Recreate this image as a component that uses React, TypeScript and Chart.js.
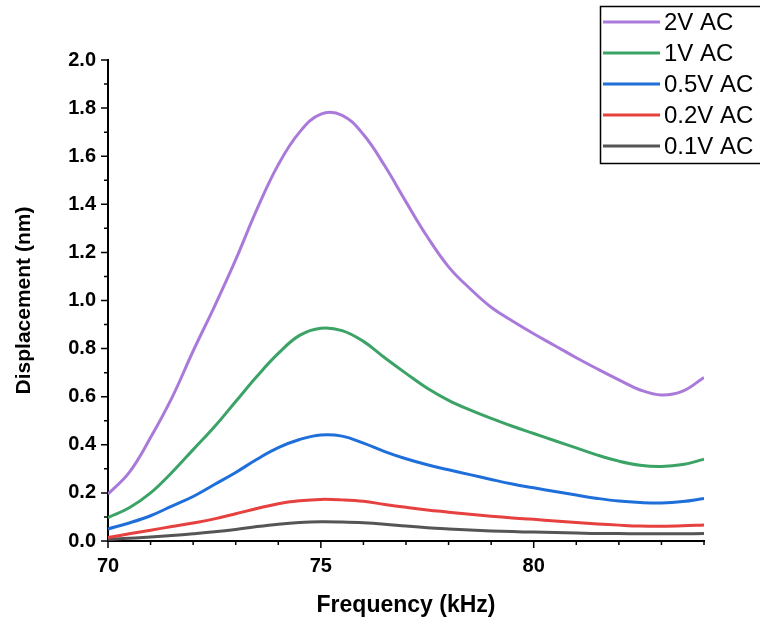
import React, { useEffect, useRef } from 'react';
import { Chart, registerables } from 'chart.js';

Chart.register(...registerables);

const frequencies = [70, 70.5, 71, 71.5, 72, 72.5, 73, 73.5, 74, 74.5, 75, 75.5, 76, 76.5, 77, 77.5, 78, 78.5, 79, 79.5, 80, 80.5, 81, 81.5, 82, 82.5, 83, 83.5, 84];

const v2AC = [0.195, 0.285, 0.43, 0.595, 0.79, 0.975, 1.17, 1.38, 1.565, 1.70, 1.775, 1.77, 1.69, 1.56, 1.41, 1.265, 1.14, 1.05, 0.972, 0.915, 0.862, 0.812, 0.762, 0.715, 0.67, 0.628, 0.607, 0.623, 0.68];
const v1AC = [0.097, 0.138, 0.2, 0.285, 0.38, 0.475, 0.58, 0.685, 0.78, 0.855, 0.885, 0.875, 0.83, 0.762, 0.697, 0.635, 0.585, 0.545, 0.51, 0.477, 0.447, 0.417, 0.387, 0.357, 0.332, 0.315, 0.31, 0.318, 0.34];
const v05AC = [0.05, 0.075, 0.105, 0.145, 0.185, 0.235, 0.285, 0.34, 0.388, 0.422, 0.441, 0.436, 0.407, 0.372, 0.342, 0.317, 0.296, 0.276, 0.256, 0.237, 0.221, 0.206, 0.191, 0.177, 0.166, 0.16, 0.158, 0.164, 0.177];
const v02AC = [0.014, 0.03, 0.045, 0.06, 0.075, 0.092, 0.113, 0.135, 0.155, 0.167, 0.173, 0.171, 0.165, 0.152, 0.14, 0.129, 0.12, 0.111, 0.103, 0.096, 0.09, 0.083, 0.077, 0.071, 0.066, 0.062, 0.061, 0.063, 0.067];
const v01AC = [0.007, 0.011, 0.017, 0.023, 0.03, 0.038, 0.048, 0.06, 0.07, 0.077, 0.08, 0.079, 0.076, 0.07, 0.062, 0.055, 0.05, 0.046, 0.042, 0.039, 0.037, 0.035, 0.033, 0.031, 0.031, 0.03, 0.03, 0.03, 0.031];

const seriesLabels = ['2V AC', '1V AC', '0.5V AC', '0.2V AC', '0.1V AC'];
const seriesValues = [v2AC, v1AC, v05AC, v02AC, v01AC];
const seriesColors = ['#A97AD9', '#3BA366', '#1F6FDA', '#E6403F', '#555555'];

const xMajorTicks = [70, 75, 80];
const xMinorTicks = [70, 71, 72, 73, 74, 75, 76, 77, 78, 79, 80, 81, 82, 83, 84];
const yMajorTicks = [0, 0.2, 0.4, 0.6, 0.8, 1.0, 1.2, 1.4, 1.6, 1.8, 2.0];
const yMinorTicks = [0.1, 0.3, 0.5, 0.7, 0.9, 1.1, 1.3, 1.5, 1.7, 1.9];

const axisTicksPlugin = {
  id: 'axisTicks',
  afterDraw(chart: any) {
    const { ctx, chartArea, scales } = chart;
    const xs = scales.x;
    const ys = scales.y;
    ctx.save();
    ctx.strokeStyle = '#000';
    ctx.lineWidth = 1.5;
    ctx.beginPath();
    xMinorTicks.forEach((v) => {
      const px = xs.getPixelForValue(v);
      const len = xMajorTicks.includes(v) ? 7 : 4;
      ctx.moveTo(px, chartArea.bottom);
      ctx.lineTo(px, chartArea.bottom + len);
    });
    yMajorTicks.forEach((v) => {
      const py = ys.getPixelForValue(v);
      ctx.moveTo(chartArea.left, py);
      ctx.lineTo(chartArea.left - 7, py);
    });
    yMinorTicks.forEach((v) => {
      const py = ys.getPixelForValue(v);
      ctx.moveTo(chartArea.left, py);
      ctx.lineTo(chartArea.left - 4, py);
    });
    ctx.stroke();
    ctx.restore();
  },
};

const boxLegendPlugin = {
  id: 'boxLegend',
  afterDraw(chart: any) {
    const { ctx } = chart;
    ctx.save();
    ctx.strokeStyle = '#000';
    ctx.lineWidth = 1.5;
    ctx.strokeRect(600.5, 6.5, 170, 157);
    ctx.font = '24px "Liberation Sans", Arial, sans-serif';
    ctx.textBaseline = 'middle';
    ctx.fillStyle = '#000';
    chart.data.datasets.forEach((ds: any, i: number) => {
      const y = 22 + i * 31;
      ctx.strokeStyle = ds.borderColor;
      ctx.lineWidth = 3;
      ctx.beginPath();
      ctx.moveTo(603, y);
      ctx.lineTo(660, y);
      ctx.stroke();
      ctx.fillText(ds.label, 664, y + 1);
    });
    ctx.restore();
  },
};

export default function App() {
  const canvasRef = useRef<HTMLCanvasElement | null>(null);

  useEffect(() => {
    if (!canvasRef.current) return;
    const chart = new Chart(canvasRef.current, {
      type: 'line',
      data: {
        datasets: seriesLabels.map((label, i) => ({
          label,
          data: frequencies.map((f, j) => ({ x: f, y: seriesValues[i][j] })),
          borderColor: seriesColors[i],
          backgroundColor: seriesColors[i],
          borderWidth: 3,
          pointRadius: 0,
          tension: 0.4,
          fill: false,
        })),
      },
      options: {
        animation: false,
        responsive: false,
        maintainAspectRatio: false,
        layout: { padding: { top: 60, right: 56, left: 0, bottom: 0 } },
        plugins: {
          legend: { display: false },
          tooltip: { enabled: false },
        },
        scales: {
          x: {
            type: 'linear',
            min: 70,
            max: 84,
            afterBuildTicks: (scale: any) => {
              scale.ticks = xMajorTicks.map((v) => ({ value: v }));
            },
            afterFit: (scale: any) => {
              scale.height = 85;
            },
            grid: { display: false },
            border: { display: true, color: '#000', width: 2 },
            ticks: {
              color: '#000',
              padding: 5,
              maxRotation: 0,
              autoSkip: false,
              font: { family: '"Liberation Sans", Arial, sans-serif', size: 20, weight: 'bold' },
            },
            title: {
              display: true,
              text: 'Frequency (kHz)',
              color: '#000',
              padding: { top: 0, bottom: 7 },
              font: { family: '"Liberation Sans", Arial, sans-serif', size: 23, weight: 'bold' },
            },
          },
          y: {
            type: 'linear',
            min: 0,
            max: 2.0,
            afterBuildTicks: (scale: any) => {
              scale.ticks = yMajorTicks.map((v) => ({ value: v }));
            },
            afterFit: (scale: any) => {
              scale.width = 108;
            },
            grid: { display: false },
            border: { display: true, color: '#000', width: 2 },
            ticks: {
              color: '#000',
              padding: 4,
              autoSkip: false,
              callback: (v: any) => Number(v).toFixed(1),
              font: { family: '"Liberation Sans", Arial, sans-serif', size: 20, weight: 'bold' },
            },
            title: {
              display: true,
              text: 'Displacement (nm)',
              color: '#000',
              padding: { top: 12, bottom: 0 },
              font: { family: '"Liberation Sans", Arial, sans-serif', size: 21, weight: 'bold' },
            },
          },
        },
      },
      plugins: [axisTicksPlugin, boxLegendPlugin],
    });
    return () => chart.destroy();
  }, []);

  return (
    <div style={{ position: 'absolute', left: 0, top: 0, width: 760, height: 626, background: '#fff' }}>
      <canvas ref={canvasRef} width={760} height={626} style={{ display: 'block' }} />
    </div>
  );
}
